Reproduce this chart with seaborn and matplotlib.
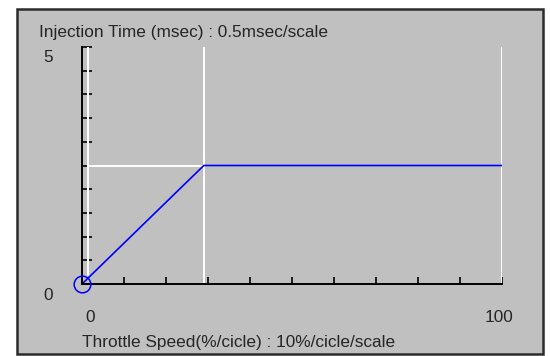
import matplotlib
matplotlib.use("Agg")
import matplotlib.pyplot as plt
from matplotlib.patches import Rectangle
import seaborn as sns
import pandas as pd

# Injection-time map: throttle speed (%/cycle) vs injection time (msec)
throttle_speed = [0, 29, 100]
injection_time = [0, 2.5, 2.5]

x_ticks = list(range(0, 101, 10))
y_ticks = [i * 0.5 for i in range(11)]
y_title = "Injection Time (msec) : 0.5msec/scale"
x_title = "Throttle Speed(%/cicle) : 10%/cicle/scale"

sns.set_theme(style="white")
plt.rcParams["font.family"] = ["Liberation Sans", "DejaVu Sans"]

W, H = 550, 356
fig = plt.figure(figsize=(W / 100, H / 100), dpi=100)
fig.patch.set_facecolor("white")

# Grey panel with dark frame
fig.patches.append(Rectangle((17 / W, 1 - 354 / H), (543 - 17) / W, (354 - 9) / H,
                             transform=fig.transFigure, facecolor="#c0c0c0",
                             edgecolor="#2b2b2b", linewidth=1.8, zorder=-5))

ax = fig.add_axes([82 / W, 1 - 284 / H, 420 / W, 237 / H])
ax.set_zorder(2)
ax.set_facecolor("none")
ax.set_xlim(0, 100)
ax.set_ylim(0, 5)

for s in ["top", "right"]:
    ax.spines[s].set_visible(False)
for s in ["left", "bottom"]:
    ax.spines[s].set_color("black")
    ax.spines[s].set_linewidth(1.4)
    ax.spines[s].set_zorder(5)

ax.set_xticks(x_ticks)
ax.set_yticks(y_ticks)
ax.set_xticklabels([])
ax.set_yticklabels([])
ax.tick_params(axis="x", direction="in", length=5, width=1.2, color="black", bottom=True)
ax.tick_params(axis="y", direction="in", length=7, width=1.2, color="black", left=True)

# White guide lines
wl = dict(color="white", linewidth=1.4, zorder=1)
ax.plot([1.5, 1.5], [0.2, 5], **wl)
ax.plot([throttle_speed[1]] * 2, [0, 5], **wl)
ax.plot([100, 100], [0, 5], **wl)
ax.plot([1.5, throttle_speed[1]], [injection_time[1]] * 2, **wl)

df = pd.DataFrame({"speed": throttle_speed, "time": injection_time})
sns.lineplot(data=df, x="speed", y="time", ax=ax, color="#0000ff",
             linewidth=1.2, zorder=3)
ax.plot([throttle_speed[0]], [injection_time[0]], marker="o", markersize=12,
        markerfacecolor="none", markeredgecolor="#0000ff", markeredgewidth=1.1,
        clip_on=False, zorder=6)
ax.set_xlabel("")
ax.set_ylabel("")

fs = 12.4
fig.text(48 / W, 1 - 57 / H, "5", fontsize=fs, ha="center", va="center")
fig.text(48 / W, 1 - 295 / H, "0", fontsize=fs, ha="center", va="center")
fig.text(90 / W, 1 - 318 / H, "0", fontsize=fs, ha="center", va="center")
fig.text(499 / W, 1 - 318 / H, "100", fontsize=fs, ha="center", va="center")
fig.text(39 / W, 1 - 33 / H, y_title, fontsize=fs, ha="left", va="center")
fig.text(82 / W, 1 - 342 / H, x_title, fontsize=fs, ha="left", va="center")

fig.savefig("out.png", dpi=100, facecolor="white")
